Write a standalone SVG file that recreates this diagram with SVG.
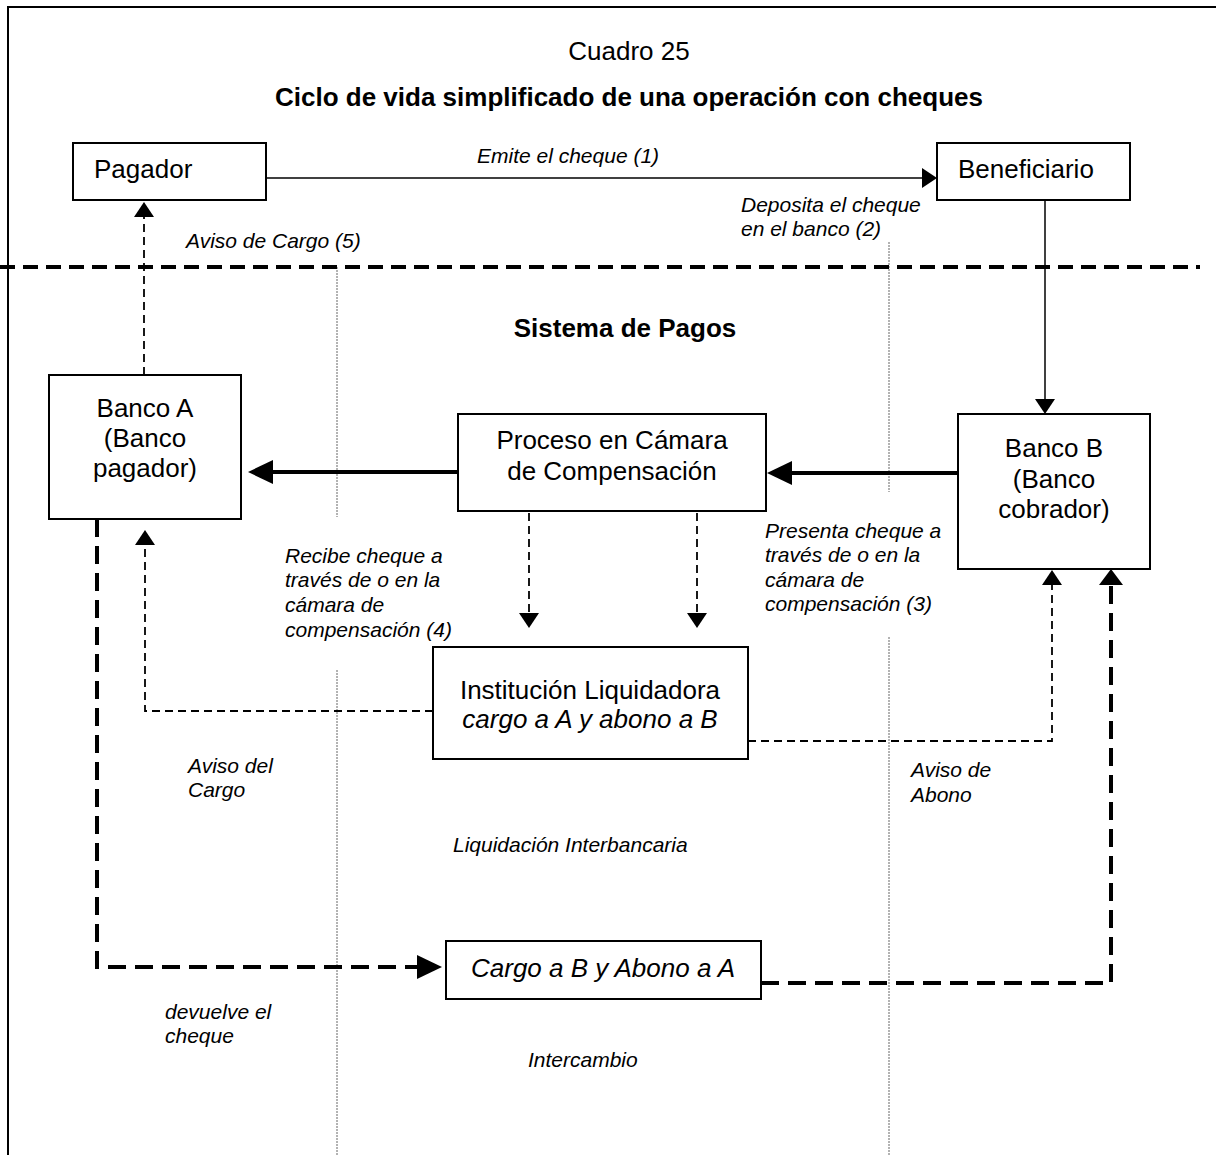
<svg xmlns="http://www.w3.org/2000/svg" width="1216" height="1155" viewBox="0 0 1216 1155">
<style>
  text { font-family: "Liberation Sans", Arial, sans-serif; fill: #000; }
  .node { font-size: 26px; }
  .title { font-size: 26px; font-weight: bold; }
  .lbl { font-size: 21px; font-style: italic; }
  .box { fill: #fff; stroke: #000; stroke-width: 2; }
  .thin { fill: none; stroke: #000; stroke-width: 1.5; }
  .thindash { fill: none; stroke: #000; stroke-width: 1.8; stroke-dasharray: 8 5; }
  .thick { fill: none; stroke: #000; stroke-width: 4; }
  .thickdash { fill: none; stroke: #000; stroke-width: 4; stroke-dasharray: 18 9; }
  .sep { fill: none; stroke: #000; stroke-width: 4; stroke-dasharray: 15 8; }
  .dot { fill: none; stroke: #666; stroke-width: 1; stroke-dasharray: 2 1; }
</style>
<defs>
  <marker id="aThin" markerUnits="userSpaceOnUse" viewBox="0 0 15 20" markerWidth="15" markerHeight="20" refX="0" refY="10" orient="auto">
    <path d="M0,0 L15,10 L0,20 z" fill="#000"/>
  </marker>
  <marker id="aBig" markerUnits="userSpaceOnUse" viewBox="0 0 25 24" markerWidth="25" markerHeight="24" refX="0" refY="12" orient="auto">
    <path d="M0,0 L25,12 L0,24 z" fill="#000"/>
  </marker>
  <marker id="aMid" markerUnits="userSpaceOnUse" viewBox="0 0 16 24" markerWidth="16" markerHeight="24" refX="0" refY="12" orient="auto">
    <path d="M0,0 L16,12 L0,24 z" fill="#000"/>
  </marker>
</defs>
<rect x="0" y="0" width="1216" height="1155" fill="#fff"/>
<g id="frame">
  <path d="M8,1155 V7 H1216" fill="none" stroke="#000" stroke-width="2"/>
</g>
<g id="guides">
  <line class="dot" x1="337" y1="267" x2="337" y2="517"/>
  <line class="dot" x1="337" y1="670" x2="337" y2="1155"/>
  <line class="dot" x1="889" y1="242" x2="889" y2="492"/>
  <line class="dot" x1="889" y1="637" x2="889" y2="1155"/>
  <line class="sep" x1="0" y1="267" x2="1200" y2="267"/>
</g>
<g id="titles">
  <text class="node" x="629" y="60" text-anchor="middle">Cuadro 25</text>
  <text class="title" x="629" y="106" text-anchor="middle">Ciclo de vida simplificado de una operación con cheques</text>
  <text class="title" x="625" y="337" text-anchor="middle">Sistema de Pagos</text>
</g>
<g id="connectors">
  <line class="thin" x1="266" y1="178" x2="922" y2="178" marker-end="url(#aThin)"/>
  <line class="thin" x1="1045" y1="200" x2="1045" y2="399" marker-end="url(#aThin)"/>
  <line class="thindash" x1="144" y1="375" x2="144" y2="217" marker-end="url(#aThin)"/>
  <line class="thick" x1="458" y1="472" x2="273" y2="472" marker-end="url(#aBig)"/>
  <line class="thick" x1="958" y1="473" x2="792" y2="473" marker-end="url(#aBig)"/>
  <line class="thindash" x1="529" y1="513" x2="529" y2="613" marker-end="url(#aThin)"/>
  <line class="thindash" x1="697" y1="513" x2="697" y2="613" marker-end="url(#aThin)"/>
  <path class="thindash" d="M433,711 H145 V545" marker-end="url(#aThin)"/>
  <path class="thindash" d="M748,741 H1052 V585" marker-end="url(#aThin)"/>
  <path class="thickdash" d="M97,519 V967 H417" marker-end="url(#aBig)"/>
  <path class="thickdash" d="M761,983 H1111 V585" marker-end="url(#aMid)"/>
</g>
<g id="pagador">
  <rect class="box" x="73" y="143" width="193" height="57"/>
  <text class="node" x="94" y="178">Pagador</text>
</g>
<g id="beneficiario">
  <rect class="box" x="937" y="143" width="193" height="57"/>
  <text class="node" x="958" y="178">Beneficiario</text>
</g>
<g id="bancoA">
  <rect class="box" x="49" y="375" width="192" height="144"/>
  <text class="node" x="145" y="417" text-anchor="middle">Banco A</text>
  <text class="node" x="145" y="447" text-anchor="middle">(Banco</text>
  <text class="node" x="145" y="477" text-anchor="middle">pagador)</text>
</g>
<g id="proceso">
  <rect class="box" x="458" y="414" width="308" height="97"/>
  <text class="node" x="612" y="449" text-anchor="middle">Proceso en Cámara</text>
  <text class="node" x="612" y="480" text-anchor="middle">de Compensación</text>
</g>
<g id="bancoB">
  <rect class="box" x="958" y="414" width="192" height="155"/>
  <text class="node" x="1054" y="457" text-anchor="middle">Banco B</text>
  <text class="node" x="1054" y="488" text-anchor="middle">(Banco</text>
  <text class="node" x="1054" y="518" text-anchor="middle">cobrador)</text>
</g>
<g id="institucion">
  <rect class="box" x="433" y="647" width="315" height="112"/>
  <text class="node" x="590" y="699" text-anchor="middle">Institución Liquidadora</text>
  <text class="node" x="590" y="728" text-anchor="middle" font-style="italic">cargo a A y abono a B</text>
</g>
<g id="cargo">
  <rect class="box" x="446" y="941" width="315" height="58"/>
  <text class="node" x="603" y="977" text-anchor="middle" font-style="italic">Cargo a B y Abono a A</text>
</g>
<g id="labels">
  <text class="lbl" x="477" y="163">Emite el cheque (1)</text>
  <text class="lbl" x="741" y="212">Deposita el cheque</text>
  <text class="lbl" x="741" y="236">en el banco (2)</text>
  <text class="lbl" x="186" y="248">Aviso de Cargo (5)</text>
  <text class="lbl" x="285" y="563">Recibe cheque a</text>
  <text class="lbl" x="285" y="587">través de o en la</text>
  <text class="lbl" x="285" y="612">cámara de</text>
  <text class="lbl" x="285" y="637">compensación (4)</text>
  <text class="lbl" x="765" y="538">Presenta cheque a</text>
  <text class="lbl" x="765" y="562">través de o en la</text>
  <text class="lbl" x="765" y="587">cámara de</text>
  <text class="lbl" x="765" y="611">compensación (3)</text>
  <text class="lbl" x="188" y="773">Aviso del</text>
  <text class="lbl" x="188" y="797">Cargo</text>
  <text class="lbl" x="911" y="777">Aviso de</text>
  <text class="lbl" x="911" y="802">Abono</text>
  <text class="lbl" x="453" y="852">Liquidación Interbancaria</text>
  <text class="lbl" x="528" y="1067">Intercambio</text>
  <text class="lbl" x="165" y="1019">devuelve el</text>
  <text class="lbl" x="165" y="1043">cheque</text>
</g>
</svg>
